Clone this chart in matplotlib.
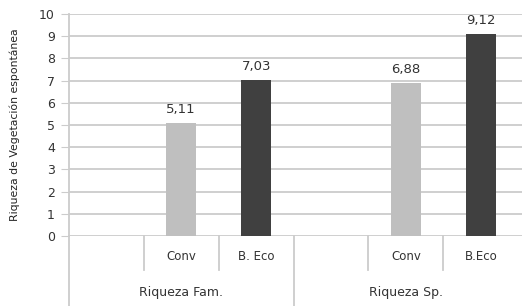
import numpy as np
import matplotlib
matplotlib.use('Agg')
import matplotlib.pyplot as plt
import matplotlib.transforms as mtransforms

# Data
groups = ['Riqueza Fam.', 'Riqueza Sp.']
sub_labels = [['', 'Conv', 'B. Eco'], ['', 'Conv', 'B.Eco']]
conv_values = [5.11, 6.88]
eco_values = [7.03, 9.12]
y_ticks = [0, 1, 2, 3, 4, 5, 6, 7, 8, 9, 10]

light = '#bfbfbf'
dark = '#404040'
grid_col = '#cccccc'
plt.rcParams['font.family'] = ['DejaVu Sans']

fig = plt.figure(figsize=(5.22, 3.06), dpi=100)
ax = fig.add_axes([0.132, 0.229, 0.868, 0.725])

n_sub = len(sub_labels[0])
conv_x = [g * n_sub + 1 for g in range(len(groups))]
eco_x = [g * n_sub + 2 for g in range(len(groups))]

b1 = ax.bar(conv_x, conv_values, width=0.4, color=light, zorder=3)
b2 = ax.bar(eco_x, eco_values, width=0.4, color=dark, zorder=3)

for bars, vals in ((b1, conv_values), (b2, eco_values)):
    for rect, v in zip(bars, vals):
        ax.annotate(f'{v:.2f}'.replace('.', ','),
                    (rect.get_x() + rect.get_width() / 2, v),
                    xytext=(0, 5), textcoords='offset points',
                    ha='center', va='bottom', fontsize=9.5, color='#333333')

ax.set_xlim(-0.5, len(groups) * n_sub - 0.45)
ax.set_ylim(0, 10)
ax.set_yticks(y_ticks)
ax.yaxis.grid(True, color=grid_col, linewidth=1.3, zorder=0)
ax.tick_params(axis='y', length=6, color=grid_col, labelsize=9,
               labelcolor='#333333', pad=4)
ax.set_xticks([])
for s in ['top', 'right', 'bottom']:
    ax.spines[s].set_visible(False)
ax.spines['left'].set_color(grid_col)
ax.spines['left'].set_linewidth(1.3)

ax.set_ylabel('Riqueza de Vegetación espontánea', fontsize=7.8, color='#222222')
ax.yaxis.set_label_coords(-0.109, 0.5)

# hierarchical category axis (no line at the far right edge)
trans = mtransforms.blended_transform_factory(ax.transData, ax.transAxes)
px = 1.0 / (0.725 * 306)  # axes fraction per pixel
for i in range(len(groups) * n_sub):
    xpos = i - 0.5
    if i % n_sub == 0:
        y0 = -72 * px
    else:
        y0 = -34 * px
    ax.plot([xpos, xpos], [0, y0], transform=trans, color=grid_col,
            linewidth=1.3, clip_on=False)

for g, labels in enumerate(sub_labels):
    for j, lab in enumerate(labels):
        ax.text(g * n_sub + j, -21 * px, lab, transform=trans, ha='center',
                va='center', fontsize=8.5, color='#333333')
    ax.text(g * n_sub + (n_sub - 1) / 2, -57 * px, groups[g], transform=trans,
            ha='center', va='center', fontsize=9, color='#333333')

fig.savefig('out.png', dpi=100)
